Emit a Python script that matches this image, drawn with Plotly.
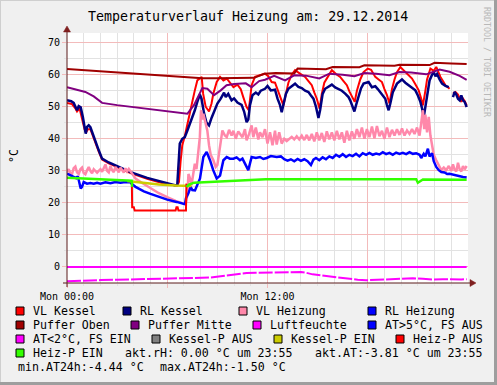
import plotly.graph_objects as go

# ---------------- data (time in hours since Mon 00:00, values in °C) ----------------
VL_KESSEL = [(0,51.2),(0.3,50.8),(0.5,49.5),(0.6,48.5),(0.75,49.5),(0.9,46.0),(1.05,43.0),(1.15,42.0),(1.25,43.0),
    (1.4,43.0),(1.5,41.5),(1.7,38.5),(1.9,36.0),(2.1,33.5),(2.5,32.3),(3.1,30.9),(3.8,29.3),(4.8,27.5),(6.0,25.7),
    (6.6,25.4),(6.7,26.5),(6.8,33),(6.9,38),(7.06,41),(7.2,44.7),(7.45,50.4),(7.65,55.1),(7.8,58.2),(7.95,58.8),
    (8.06,59.3),(8.15,54.0),(8.3,50.0),(8.5,48.5),(8.65,51.0),(8.76,54.1),(8.96,57.7),(9.16,59.3),(9.36,58.2),
    (9.56,58.8),(9.75,57.5),(9.96,56.1),(10.2,56.9),(10.4,55.5),(10.55,53.0),(10.75,49.9),(10.88,48.9),(10.98,53.0),
    (11.05,56.7),(11.25,59.3),(11.55,59.8),(11.85,60.3),(12.05,59.5),(12.25,57.7),(12.45,57.5),(12.6,55.5),
    (12.75,53.6),(12.95,50.4),(13.1,54.0),(13.25,57.5),(13.45,60.0),(13.65,61.4),(13.9,60.5),(14.25,59.3),
    (14.45,58.0),(14.65,56.7),(14.8,54.5),(14.95,52.5),(15.12,49.4),(15.25,54.0),(15.4,57.5),(15.65,59.8),
    (15.85,61.4),(16.1,60.2),(16.35,59.3),(16.55,58.0),(16.75,56.7),(16.9,54.8),(17.05,53.0),(17.22,51.5),
    (17.35,55.0),(17.55,58.5),(17.75,60.8),(18.0,61.9),(18.2,61.5),(18.45,59.3),(18.65,58.5),(18.85,57.7),
    (19.0,55.5),(19.15,53.6),(19.3,51.0),(19.45,55.5),(19.6,58.5),(19.75,60.8),(19.95,62.4),(20.25,60.8),
    (20.45,59.8),(20.65,58.8),(20.85,57.0),(21.05,55.1),(21.2,52.5),(21.3,50.4),(21.45,55.0),(21.55,58.5),
    (21.75,61.9),(21.95,61.2),(22.1,62.4),(22.2,61.0),(22.35,59.3),(22.5,58.0),(22.65,56.7),(22.9,55.6),
    (22.95,None),(23.1,54.1),(23.25,54.6),(23.4,53.8),(23.5,52.5),(23.6,51.5),(23.7,52.5),(23.8,51.8),(23.92,50.4)]

RL_KESSEL = [(0,52.0),(0.25,51.7),(0.4,51.2),(0.52,49.5),(0.6,48.9),(0.7,50.2),(0.82,49.8),(0.95,46.8),(1.05,43.5),
    (1.12,41.6),(1.2,43.7),(1.3,44.2),(1.4,43.6),(1.5,42.1),(1.6,40.8),(1.72,39.0),(1.9,36.4),(2.1,33.8),(2.5,32.6),
    (3.1,31.2),(3.8,29.6),(4.8,27.8),(5.5,26.8),(6.0,26.0),(6.45,25.5),(6.6,25.6),(6.65,30),(6.75,38.5),(6.9,40.0),
    (7.05,40.5),(7.2,42.5),(7.35,44.5),(7.5,47.0),(7.65,48.9),(7.8,51.5),(7.95,53.8),(8.05,52.5),(8.2,48.0),
    (8.35,45.0),(8.5,44.2),(8.65,46.5),(8.8,48.6),(9.0,51.0),(9.2,52.5),(9.4,54.4),(9.5,53.0),(9.65,54.0),
    (9.85,52.0),(10.0,52.6),(10.2,51.3),(10.45,50.6),(10.6,48.5),(10.75,45.2),(10.85,46.0),(10.95,50.5),
    (11.1,53.6),(11.3,54.4),(11.45,53.8),(11.6,55.0),(11.85,55.6),(12.0,56.5),(12.2,55.1),(12.45,55.3),
    (12.6,52.5),(12.75,50.5),(12.85,48.3),(12.95,50.5),(13.1,54.0),(13.25,55.6),(13.45,56.5),(13.65,57.2),
    (13.85,56.2),(14.05,55.8),(14.25,55.0),(14.45,54.6),(14.6,53.5),(14.75,52.5),(14.9,50.0),(15.05,46.5),
    (15.15,49.0),(15.3,54.0),(15.45,55.6),(15.65,56.2),(15.85,56.9),(16.05,56.0),(16.25,55.6),(16.45,55.0),
    (16.65,54.1),(16.85,53.0),(16.95,52.0),(17.1,50.0),(17.2,48.5),(17.3,50.5),(17.45,53.6),(17.6,55.8),
    (17.75,57.2),(18.05,57.7),(18.25,56.1),(18.45,56.4),(18.6,55.5),(18.75,54.6),(18.9,53.5),(19.05,52.5),
    (19.15,50.5),(19.25,48.9),(19.35,51.0),(19.5,54.5),(19.75,57.2),(20.05,58.5),(20.25,57.5),(20.45,56.7),
    (20.65,55.8),(20.85,55.1),(21.0,53.5),(21.15,51.5),(21.25,49.5),(21.35,46.8),(21.45,50.0),(21.55,53.6),
    (21.7,58.2),(21.85,60.0),(21.95,60.8),(22.05,59.5),(22.15,60.2),(22.3,58.5),(22.45,57.2),(22.65,56.5),
    (22.85,56.1),(22.95,None),(23.1,53.0),(23.2,54.6),(23.3,53.8),(23.4,52.5),(23.5,52.0),(23.6,53.5),
    (23.7,52.0),(23.8,51.5),(23.92,49.9)]

VL_HEIZUNG = [(0,29.6),(0.1,30.5),(0.2,29.3),(0.3,29.0),(0.4,30.8),(0.5,31.3),(0.6,29.5),(0.7,29.0),(0.8,30.5),
    (0.9,31.0),(1.0,29.3),(1.1,28.9),(1.2,30.2),(1.3,31.2),(1.4,30.0),(1.5,29.2),(1.6,30.5),(1.7,29.8),(1.8,29.4),
    (1.9,30.0),(2.0,30.5),(2.1,29.7),(2.2,31.0),(2.3,32.0),(2.4,30.0),(2.5,29.5),(2.6,31.5),(2.7,30.2),(2.8,29.6),
    (2.9,31.2),(3.0,30.4),(3.1,29.5),(3.2,31.0),(3.3,30.0),(3.4,29.5),(3.5,30.8),(3.6,29.8),(3.7,30.6),(3.8,29.9),
    (3.9,29.0),(4.1,27.6),(4.5,26.2),(5.0,24.5),(5.5,23.0),(6.0,21.8),(6.5,20.6),(7.1,19.6),(7.2,22.5),(7.27,29.0),
    (7.35,27.8),(7.45,25.5),(7.55,28.5),(7.65,32.2),(7.75,30.5),(7.85,36.0),(7.95,40.5),(8.02,48.9),(8.1,46.0),
    (8.16,47.8),(8.3,44.0),(8.4,42.5),(8.5,38.0),(8.6,35.0),(8.76,33.3),(8.9,31.2),(9.0,31.8),(9.16,37.4),
    (9.3,42.6),(9.45,41.0),(9.56,40.5),(9.7,42.8),(9.85,41.0),(9.96,42.5),(10.1,40.0),(10.25,42.3),(10.35,41.6),
    (10.5,40.5),(10.65,43.0),(10.75,39.5),(10.9,41.5),(11.05,44.2),(11.15,40.5),(11.3,43.5),(11.45,39.8),
    (11.55,42.0),(11.7,40.5),(11.85,43.0),(12.0,38.5),(12.15,42.0),(12.3,38.0),(12.45,42.5),(12.55,38.2),
    (12.7,42.0),(12.85,38.5),(13.0,40.0),(13.15,39.3),(13.3,40.0),(13.45,40.6),(13.6,39.8),(13.75,40.8),
    (13.9,39.8),(14.05,41.0),(14.2,39.6),(14.35,41.2),(14.5,39.5),(14.65,41.5),(14.8,39.2),(14.95,42.0),
    (15.1,39.5),(15.25,41.8),(15.4,39.0),(15.55,42.3),(15.7,39.8),(15.85,42.0),(16.0,39.5),(16.15,42.5),
    (16.3,39.8),(16.45,42.0),(16.6,38.8),(16.75,42.5),(16.9,39.5),(17.05,42.3),(17.2,40.0),(17.35,43.0),
    (17.5,40.5),(17.65,43.5),(17.8,40.0),(17.95,43.0),(18.1,40.5),(18.25,43.8),(18.4,40.2),(18.55,44.0),
    (18.7,40.8),(18.85,42.5),(19.0,40.0),(19.15,43.5),(19.3,40.5),(19.45,42.8),(19.6,41.0),(19.75,43.0),
    (19.9,41.2),(20.05,43.2),(20.2,41.0),(20.35,42.6),(20.5,41.5),(20.65,43.0),(20.8,41.5),(20.95,43.5),
    (21.1,41.0),(21.2,45.0),(21.3,48.9),(21.38,43.0),(21.45,47.5),(21.55,42.0),(21.65,46.8),(21.75,41.0),
    (21.85,38.5),(21.95,35.0),(22.1,33.3),(22.25,31.5),(22.4,30.2),(22.55,31.0),(22.7,30.2),(22.85,31.5),
    (23.0,30.0),(23.1,32.0),(23.2,30.3),(23.3,29.8),(23.4,32.5),(23.5,30.5),(23.6,29.8),(23.7,31.5),(23.8,30.5),
    (23.92,31.5)]

RL_HEIZUNG = [(0,29.1),(0.2,28.5),(0.4,28.0),(0.55,27.7),(0.65,28.3),(0.75,26.0),(0.82,24.5),(0.9,25.0),(1.0,26.5),
    (1.2,26.0),(1.4,26.2),(1.6,26.0),(1.8,26.3),(2.0,26.0),(2.3,26.4),(2.6,26.1),(2.9,26.5),(3.2,26.3),(3.5,26.5),
    (3.8,26.4),(3.9,25.8),(4.1,25.0),(4.6,23.6),(5.0,22.8),(5.5,21.8),(6.0,21.0),(6.56,20.3),(7.06,19.6),
    (7.12,21.5),(7.26,22.9),(7.4,25.0),(7.5,24.0),(7.66,23.9),(7.8,25.5),(7.96,27.6),(8.16,34.3),(8.36,35.9),
    (8.56,33.3),(8.75,30.2),(8.96,27.6),(9.16,28.5),(9.36,33.3),(9.56,34.3),(9.75,33.8),(9.96,33.8),(10.15,34.2),
    (10.35,33.3),(10.5,33.8),(10.65,32.2),(10.85,30.2),(11.05,34.3),(11.3,34.0),(11.55,34.3),(11.75,33.7),
    (11.95,34.0),(12.2,34.6),(12.55,34.3),(12.8,34.5),(13.0,33.6),(13.2,33.2),(13.4,33.6),(13.6,33.0),(13.8,33.7),
    (14.0,33.1),(14.2,33.6),(14.4,33.0),(14.6,31.8),(14.75,33.5),(14.9,34.0),(15.1,33.3),(15.3,34.2),(15.5,33.6),
    (15.7,34.5),(15.9,34.0),(16.1,35.0),(16.3,34.4),(16.5,35.2),(16.7,34.3),(16.9,35.0),(17.1,34.6),(17.3,35.3),
    (17.5,34.5),(17.7,35.5),(17.9,35.0),(18.1,35.6),(18.3,35.0),(18.5,35.4),(18.7,35.1),(18.9,35.8),(19.1,35.2),
    (19.3,35.6),(19.5,35.0),(19.7,35.7),(19.9,35.3),(20.1,35.6),(20.3,35.2),(20.5,35.8),(20.7,35.3),(20.9,35.5),
    (21.1,35.0),(21.2,34.0),(21.35,35.3),(21.45,34.5),(21.6,36.9),(21.7,34.5),(21.85,35.5),(21.95,33.0),
    (22.1,31.2),(22.25,30.2),(22.4,29.6),(22.6,29.5),(22.75,29.0),(22.9,29.1),(23.1,28.8),(23.3,28.5),(23.5,28.3),
    (23.7,28.1),(23.92,27.9)]

PUFFER_OBEN = [(0,61.8),(2,61.1),(4,60.3),(6,59.6),(7.5,59.0),(8.1,58.9),(9,58.9),(10,59.0),(11.2,59.0),(11.8,60.3),
    (12.5,60.5),(13.6,60.4),(13.8,61.9),(15.5,61.7),(15.9,62.4),(17.5,62.3),(17.8,62.9),(19.6,62.8),(19.9,63.1),
    (21.7,63.0),(22.0,63.7),(23.0,63.5),(23.92,63.3)]

PUFFER_MITTE = [(0,56.1),(0.5,55.4),(1.1,54.6),(1.6,53.2),(2.1,51.2),(3,50.5),(4,49.9),(5,49.2),(6,48.6),(6.6,48.2),
    (7.2,47.8),(7.6,50.5),(8.1,55.8),(8.4,55.6),(8.8,53.6),(9.2,55.1),(9.55,56.7),(10,57.1),(10.7,57.3),(11.05,56.1),
    (11.5,58.0),(11.85,58.4),(12.4,59.6),(13.05,58.2),(13.6,59.8),(14.3,59.7),(15.1,58.8),(15.7,60.3),(16.5,60.0),
    (17.2,59.5),(17.8,60.5),(18.5,60.3),(19.3,59.8),(19.9,60.8),(20.6,60.7),(21.5,60.1),(22.3,61.6),(22.9,60.9),
    (23.5,59.6),(23.92,58.4)]

LUFTFEUCHTE = [(0,0.0),(6,0.0),(12,0.0),(18,0.0),(23.92,0.0)]

AUSSENTEMP = [(0,-4.44),(0.5,-4.3),(1,-4.2),(2,-4.1),(3,-4.0),(3.6,-3.94),(4.5,-3.85),(5.5,-3.75),(6.5,-3.7),
    (7.5,-3.6),(8.55,-3.3),(9.2,-2.9),(9.8,-2.5),(10.3,-2.1),(10.75,-1.87),(11.3,-1.8),(11.95,-1.75),(12.5,-1.7),
    (13.0,-1.6),(13.55,-1.5),(14.0,-1.6),(14.3,-1.8),(14.7,-2.3),(15.2,-2.6),(15.8,-3.0),(16.3,-3.3),(16.8,-3.7),
    (17.4,-4.0),(17.9,-4.15),(18.4,-4.0),(19.0,-3.9),(19.5,-3.7),(20.0,-3.6),(20.7,-3.5),(21.3,-3.7),(21.9,-3.9),
    (22.5,-3.85),(23.1,-3.95),(23.6,-3.9),(23.92,-3.81)]

KESSEL_P_EIN = [(3.6,26.8),(4.5,26.2),(5.5,25.7),(6.5,25.4),(7.45,25.3)]

HEIZ_P_AUS = [(3.88,26.6),(3.9,18.6),(4.0,18.6),(4.05,17.6),(6.5,17.6),(6.55,18.6),(6.62,18.6),(6.67,17.6),
    (7.12,17.6),(7.15,26.0)]

HEIZ_P_EIN = [(0,27.8),(1,27.6),(2,27.4),(3,27.1),(3.87,26.9),(3.9,25.0),(3.95,None),(7.15,25.0),(7.3,25.7),
    (7.6,26.3),(8.5,26.5),(10,26.8),(11.9,27.4),(13,27.4),(16,27.4),(19,27.4),(20.9,27.4),(21.0,26.3),(21.1,26.6),
    (21.3,27.3),(23.92,27.2)]

Y_TICKS = [0, 10, 20, 30, 40, 50, 60, 70]
X_TICKS = [0, 6, 12, 18]
X_TICK_LABELS = ["Mon 00:00", "", "Mon 12:00", ""]

LEGEND_ROWS = [
    [("VL Kessel", "#FF0000", 16), ("RL Kessel", "#000080", 123), ("VL Heizung", "#FF88AA", 239), ("RL Heizung", "#0000FF", 368)],
    [("Puffer Oben", "#A00000", 16), ("Puffer Mitte", "#800080", 131), ("Luftfeuchte", "#FF00FF", 253), ("AT>5°C, FS AUS", "#0000FF", 368)],
    [("AT<2°C, FS EIN", "#FF00FF", 16), ("Kessel-P AUS", "#808080", 152), ("Kessel-P EIN", "#CCCC00", 274), ("Heiz-P AUS", "#FF0000", 396)],
    [("Heiz-P EIN", "#33FF00", 16)],
]
EXTRA_TEXT = [("akt.rH: 0.00 °C um 23:55", 123, 353), ("akt.AT:-3.81 °C um 23:55", 313, 353),
              ("min.AT24h:-4.44 °C", 16, 367), ("max.AT24h:-1.50 °C", 158, 367)]

# ---------------- figure ----------------
W, H = 497, 385
L, T, PW, PH = 67, 33, 401, 250
B = T + PH
MONO = "DejaVu Sans Mono"

def fx(x):
    return (x - L) / PW

def fy(y):
    return (B - y) / PH

fig = go.Figure()

def add(series, color, width, dash=None):
    ts = [p[0] for p in series]
    vs = [p[1] for p in series]
    fig.add_trace(go.Scatter(x=ts, y=vs, mode="lines", connectgaps=False,
                             line=dict(color=color, width=width, dash=dash), showlegend=False,
                             hoverinfo="skip"))

add(VL_KESSEL, "#FF0000", 2)
add(RL_KESSEL, "#000080", 2.5)
add(VL_HEIZUNG, "#FF88AA", 2.5)
add(RL_HEIZUNG, "#0000FF", 2.5)
add(PUFFER_OBEN, "#A00000", 2)
add(PUFFER_MITTE, "#800080", 2)
add(LUFTFEUCHTE, "#FF00FF", 2)
add(AUSSENTEMP, "#FF00FF", 2, "14px,2px")
add(KESSEL_P_EIN, "#CCCC00", 2.5)
add(HEIZ_P_AUS, "#FF0000", 2)
add(HEIZ_P_EIN, "#33FF00", 2.5)

grid_major = "#F3BBBB"
grid_minor = "#E2E2E2"

fig.update_xaxes(range=[0, 24], tickvals=X_TICKS, ticktext=X_TICK_LABELS, showgrid=True, gridcolor=grid_major,
                 gridwidth=1, ticks="outside", ticklen=4, tickcolor=grid_major, showline=False, zeroline=False,
                 tickfont=dict(family=MONO, size=10, color="#000000"),
                 minor=dict(tickvals=[h for h in range(1, 24) if h % 6], showgrid=True, gridcolor=grid_minor,
                            ticks="outside", ticklen=2, tickcolor=grid_minor))
fig.update_yaxes(range=[-5, 73], tickvals=Y_TICKS, showgrid=True, gridcolor=grid_major, gridwidth=1,
                 ticks="outside", ticklen=4, tickcolor=grid_major, showline=False, zeroline=False,
                 tickfont=dict(family=MONO, size=10, color="#000000"),
                 minor=dict(tickvals=[5, 15, 25, 35, 45, 55, 65], showgrid=True, gridcolor=grid_minor,
                            ticks="outside", ticklen=2, tickcolor=grid_minor))

shapes = []
axis_col = "#5A1A1A"
arrow_col = "#7F1F1F"
shapes.append(dict(type="line", xref="paper", yref="paper", x0=fx(63), x1=fx(471), y0=fy(B), y1=fy(B),
                   line=dict(color=axis_col, width=1)))
shapes.append(dict(type="line", xref="paper", yref="paper", x0=fx(L), x1=fx(L), y0=fy(B + 4), y1=fy(29),
                   line=dict(color=axis_col, width=1)))
shapes.append(dict(type="path", xref="paper", yref="paper",
                   path=f"M {fx(470)} {fy(B-3.5)} L {fx(476)} {fy(B)} L {fx(470)} {fy(B+3.5)} Z",
                   fillcolor=arrow_col, line=dict(color=arrow_col, width=0.5)))
shapes.append(dict(type="path", xref="paper", yref="paper",
                   path=f"M {fx(L-3.5)} {fy(32)} L {fx(L)} {fy(26)} L {fx(L+3.5)} {fy(32)} Z",
                   fillcolor=arrow_col, line=dict(color=arrow_col, width=0.5)))
shapes.append(dict(type="line", xref="paper", yref="paper", x0=fx(0), x1=fx(W), y0=fy(0.5), y1=fy(0.5),
                   line=dict(color="#CFCFCF", width=1)))
shapes.append(dict(type="line", xref="paper", yref="paper", x0=fx(0.5), x1=fx(0.5), y0=fy(0), y1=fy(H),
                   line=dict(color="#CFCFCF", width=1)))
shapes.append(dict(type="line", xref="paper", yref="paper", x0=fx(495.5), x1=fx(495.5), y0=fy(0), y1=fy(H),
                   line=dict(color="#9E9E9E", width=3)))
shapes.append(dict(type="line", xref="paper", yref="paper", x0=fx(0), x1=fx(W), y0=fy(383.5), y1=fy(383.5),
                   line=dict(color="#9E9E9E", width=3)))

annotations = []
row_y = [311, 325, 339, 353]
for r, row in enumerate(LEGEND_ROWS):
    yc = row_y[r]
    for name, col, x0 in row:
        shapes.append(dict(type="rect", xref="paper", yref="paper", x0=fx(x0), x1=fx(x0 + 8),
                           y0=fy(yc + 4), y1=fy(yc - 4), fillcolor=col, line=dict(color="#000000", width=1)))
        annotations.append(dict(text=name, x=fx(x0 + 15), y=fy(yc), xref="paper", yref="paper",
                                xanchor="left", yanchor="middle", showarrow=False,
                                font=dict(family=MONO, size=11.6, color="#000000")))
for txt, x0, yc in EXTRA_TEXT:
    annotations.append(dict(text=txt, x=fx(x0), y=fy(yc), xref="paper", yref="paper", xanchor="left",
                            yanchor="middle", showarrow=False, font=dict(family=MONO, size=11.6, color="#000000")))

annotations.append(dict(text="Temperaturverlauf Heizung am: 29.12.2014", x=fx(248), y=fy(17), xref="paper",
                        yref="paper", xanchor="center", yanchor="middle", showarrow=False,
                        font=dict(family=MONO, size=13.3, color="#000000")))
annotations.append(dict(text="°C", x=fx(14), y=fy(156), xref="paper", yref="paper", xanchor="center",
                        yanchor="middle", textangle=-90, showarrow=False,
                        font=dict(family=MONO, size=11.6, color="#000000")))
annotations.append(dict(text="RRDTOOL / TOBI OETIKER", x=fx(487), y=fy(62), xref="paper", yref="paper",
                        xanchor="center", yanchor="middle", textangle=90, showarrow=False,
                        font=dict(family=MONO, size=8.3, color="#B8B8B8")))

fig.update_layout(width=W, height=H, margin=dict(l=L, r=W - L - PW, t=T, b=H - B),
                  paper_bgcolor="#F0F0F0", plot_bgcolor="#FFFFFF", shapes=shapes, annotations=annotations,
                  showlegend=False, hovermode=False)

fig.write_html("out.html", config={"displayModeBar": False, "staticPlot": True},
               post_script="document.body.style.margin='0';document.body.style.padding='0';")
